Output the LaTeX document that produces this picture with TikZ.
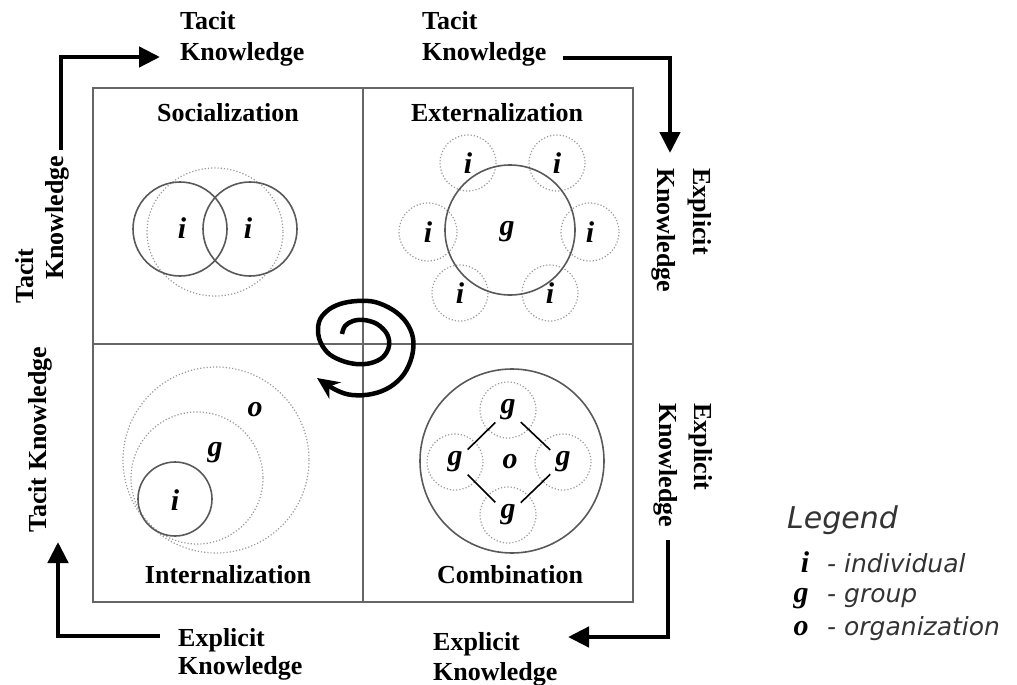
\documentclass[tikz,border=0pt]{standalone}
\usepackage{fontspec}
\setmainfont{Liberation Serif}
\newfontfamily\legfont{DejaVu Sans}
\usetikzlibrary{arrows.meta}

\begin{document}
\begin{tikzpicture}[x=1pt, y=-1pt,
    kname/.style={font=\fontsize{26}{#1}\selectfont\bfseries, inner sep=0pt, align=left},
    kname/.default=31,
    quad/.style={font=\fontsize{26}{30}\selectfont\bfseries, inner sep=0pt},
    who/.style={font=\fontsize{30}{30}\selectfont\bfseries\itshape, inner sep=0pt},
    ring/.style={draw=black!65, line width=1.6pt},
    halo/.style={draw=black!40, dotted, line width=1.2pt},
    frame/.style={draw=black!60, line width=2pt},
    flow/.style={line width=4.5pt, -{Triangle[length=21pt,width=20pt]}},
    link/.style={line width=1.6pt, shorten <=7pt, shorten >=7pt},
    legtxt/.style={font=\legfont\itshape\fontsize{25}{30}\selectfont, text=black!80, inner sep=0pt}
]

% page
\useasboundingbox (0,0) rectangle (1017,685);

% draw matrix
\draw[frame] (93,88) rectangle (633,602);
\draw[frame] (363,88) -- (363,602);
\draw[frame] (93,344) -- (633,344);

% quadrant names
\node[quad] (soc) at (228,113) {Socialization};
\node[quad] (ext) at (497,113) {Externalization};
\node[quad] (int) at (228,575) {Internalization};
\node[quad] (com) at (510,575) {Combination};

% socialization
\draw[halo] (215,232) ellipse (68 and 64);
\draw[ring] (180,229) circle (47);
\draw[ring] (250,229) circle (47);
\node[who] (si1) at (182,228) {i};
\node[who] (si2) at (248,228) {i};

% externalization
\node[who] (eg) at (507,232) {g};
\node[who] (ei1) at (468,163) {i};
\node[who] (ei2) at (557,163) {i};
\node[who] (ei3) at (428,232) {i};
\node[who] (ei4) at (590,232) {i};
\node[who] (ei5) at (460,293) {i};
\node[who] (ei6) at (550,293) {i};
\draw[halo] (ei1) circle (28);
\draw[halo] (ei2) circle (28);
\draw[halo] (ei3) circle (29);
\draw[halo] (ei4) circle (29);
\draw[halo] (ei5) circle (28);
\draw[halo] (ei6) circle (28);
\draw[ring] (510,230) circle (65);

% internalization
\draw[halo] (216,460) circle (93);
\draw[halo] (197,478) circle (66);
\draw[ring] (175,499) circle (37);
\node[who] (io) at (255,410) {o};
\node[who] (ig) at (215,453) {g};
\node[who] (ii) at (175,500) {i};

% combination
\draw[ring] (512,461) circle (92);
\node[who] (co) at (510,462) {o};
\node[who] (cg1) at (508,410) {g};
\node[who] (cg2) at (563,462) {g};
\node[who] (cg3) at (508,515) {g};
\node[who] (cg4) at (455,462) {g};
\draw[halo] (cg1) circle (28);
\draw[halo] (cg2) circle (28);
\draw[halo] (cg3) circle (28);
\draw[halo] (cg4) circle (28);
\draw[link] (cg1) -- (cg2);
\draw[link] (cg2) -- (cg3);
\draw[link] (cg3) -- (cg4);
\draw[link] (cg4) -- (cg1);

% spiral
\draw[line width=4.5pt, -{Stealth[length=22pt,width=20pt]}] plot[smooth, tension=0.6] coordinates {
  (342,334) (345,326) (353,321) (364,320) (377,324) (387,334) (389,346)
  (383,357) (371,363) (356,364) (340,360) (327,352) (319,338) (319,322)
  (327,311) (340,304) (357,301) (375,302) (393,310) (406,322) (413,338)
  (412,356) (404,374) (390,387) (372,394) (352,395) (336,390) (317,378)};

% side labels
\node[kname, anchor=north west] (tacitTL) at (180,11) {Tacit\\Knowledge};
\node[kname, anchor=north west] (tacitTR) at (422,11) {Tacit\\Knowledge};
\node[kname=36, rotate=-90, anchor=north west] (explRT) at (712,168) {Explicit\\Knowledge};
\node[kname=35, rotate=-90, anchor=north west] (explRB) at (713,403) {Explicit\\Knowledge};
\node[kname=28, anchor=north west] (explBL) at (178,628) {Explicit\\Knowledge};
\node[kname=30, anchor=north west] (explBR) at (433,632) {Explicit\\Knowledge};
\node[kname, rotate=90, anchor=north west] (tacitL1) at (15,304) {Tacit};
\node[kname, rotate=90, anchor=north west] (tacitL2) at (45,280) {Knowledge};
\node[kname, rotate=90, anchor=north west] (tacitLB) at (28,533) {Tacit Knowledge};

% corner arrows
\coordinate (tlS) at (61,150);
\coordinate (tlE) at (160,57);
\coordinate (trS) at (563,58);
\coordinate (trE) at (670,153);
\coordinate (brS) at (668,540);
\coordinate (brE) at (568,637);
\coordinate (blS) at (160,636);
\coordinate (blE) at (58,542);
\draw[flow] (tlS) |- (tlE);
\draw[flow] (trS) -| (trE);
\draw[flow] (brS) |- (brE);
\draw[flow] (blS) -| (blE);

% legend
\node[font=\legfont\itshape\fontsize{30}{32}\selectfont, text=black!80, inner sep=0pt, anchor=base west] (legend) at (787,528) {Legend};
\node[who, anchor=base] (li) at (805,572) {i};
\node[legtxt, anchor=base west] (lit) at (827,572) {- individual};
\node[who, anchor=base] (lg) at (801,602) {g};
\node[legtxt, anchor=base west] (lgt) at (827,602) {- group};
\node[who, anchor=base] (lo) at (801,635) {o};
\node[legtxt, anchor=base west] (lot) at (827,635) {- organization};

\end{tikzpicture}
\end{document}
